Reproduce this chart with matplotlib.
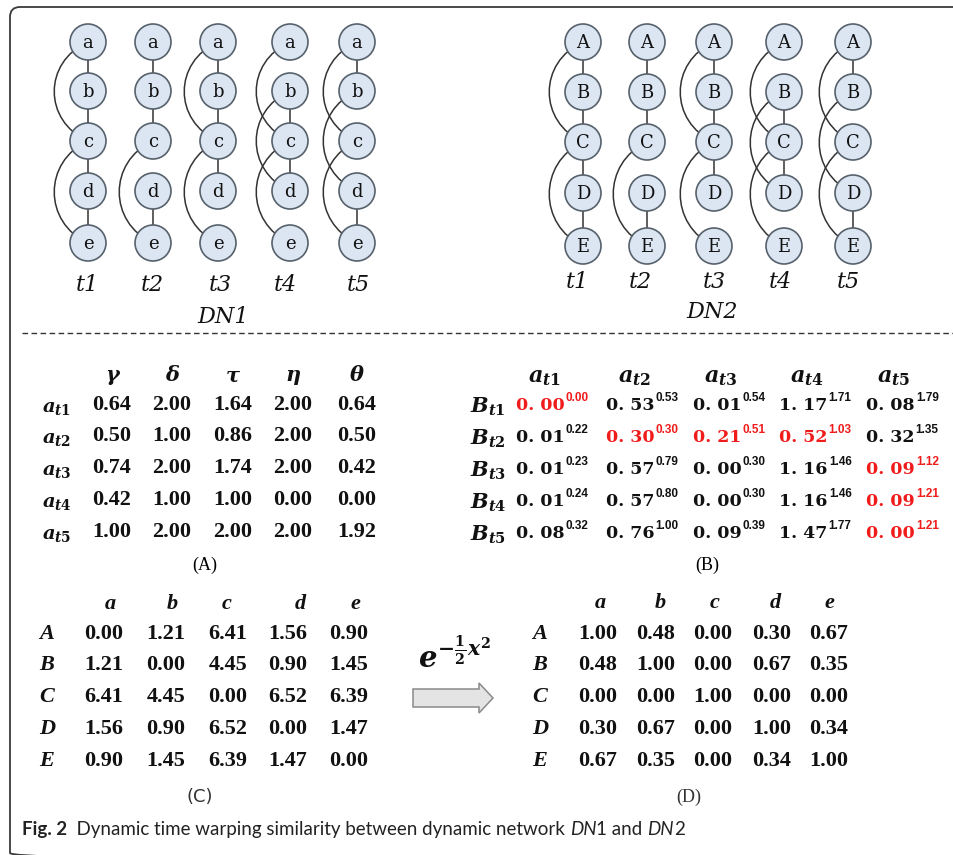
import matplotlib.pyplot as plt
from matplotlib.patches import Circle, PathPatch, FancyBboxPatch, Polygon
from matplotlib.path import Path

plt.rcParams['mathtext.fontset'] = 'custom'
plt.rcParams['mathtext.rm'] = 'DejaVu Serif:bold'
plt.rcParams['mathtext.it'] = 'DejaVu Serif:italic:bold'
plt.rcParams['mathtext.bf'] = 'DejaVu Serif:bold'

# ---- data ----
nodes_dn1 = ['a', 'b', 'c', 'd', 'e']
nodes_dn2 = ['A', 'B', 'C', 'D', 'E']
times = ['t1', 't2', 't3', 't4', 't5']
# edges per snapshot (node index pairs), same for DN1 and DN2
straight_edges = [
    [(0, 1), (1, 2), (2, 3), (3, 4)],
    [(0, 1), (1, 2), (3, 4)],
    [(0, 1), (1, 2), (2, 3)],
    [(1, 2), (2, 3)],
    [(0, 1), (3, 4)],
]
arc_edges = [
    [(0, 2), (2, 4)],
    [(2, 4)],
    [(0, 2), (2, 4)],
    [(0, 2), (1, 3), (2, 4)],
    [(0, 2), (1, 3), (2, 4)],
]

greek = ['γ', 'δ', 'τ', 'η', 'θ']
a_rows = [r'$a_{t1}$', r'$a_{t2}$', r'$a_{t3}$', r'$a_{t4}$', r'$a_{t5}$']
b_rows = [r'$B_{t1}$', r'$B_{t2}$', r'$B_{t3}$', r'$B_{t4}$', r'$B_{t5}$']
table_a = [
    [0.64, 2.00, 1.64, 2.00, 0.64],
    [0.50, 1.00, 0.86, 2.00, 0.50],
    [0.74, 2.00, 1.74, 2.00, 0.42],
    [0.42, 1.00, 1.00, 0.00, 0.00],
    [1.00, 2.00, 2.00, 2.00, 1.92],
]
table_b_cost = [
    [0.00, 0.53, 0.01, 1.17, 0.08],
    [0.01, 0.30, 0.21, 0.52, 0.32],
    [0.01, 0.57, 0.00, 1.16, 0.09],
    [0.01, 0.57, 0.00, 1.16, 0.09],
    [0.08, 0.76, 0.09, 1.47, 0.00],
]
table_b_cum = [
    [0.00, 0.53, 0.54, 1.71, 1.79],
    [0.22, 0.30, 0.51, 1.03, 1.35],
    [0.23, 0.79, 0.30, 1.46, 1.12],
    [0.24, 0.80, 0.30, 1.46, 1.21],
    [0.32, 1.00, 0.39, 1.77, 1.21],
]
warp_path = [(0, 0), (1, 1), (1, 2), (1, 3), (2, 4), (3, 4), (4, 4)]
table_c = [
    [0.00, 1.21, 6.41, 1.56, 0.90],
    [1.21, 0.00, 4.45, 0.90, 1.45],
    [6.41, 4.45, 0.00, 6.52, 6.39],
    [1.56, 0.90, 6.52, 0.00, 1.47],
    [0.90, 1.45, 6.39, 1.47, 0.00],
]
table_d = [
    [1.00, 0.48, 0.00, 0.30, 0.67],
    [0.48, 1.00, 0.00, 0.67, 0.35],
    [0.00, 0.00, 1.00, 0.00, 0.00],
    [0.30, 0.67, 0.00, 1.00, 0.34],
    [0.67, 0.35, 0.00, 0.34, 1.00],
]

W, H = 954, 855
fig = plt.figure(figsize=(W / 100, H / 100), dpi=100)
ax = fig.add_axes([0, 0, 1, 1])
ax.set_xlim(0, W)
ax.set_ylim(H, 0)
ax.axis('off')

# frame and separator
ax.add_patch(FancyBboxPatch((10, 7), 1000, 856, boxstyle='round,pad=0,rounding_size=10',
                            fc='none', ec='#3a3a3a', lw=1.3))
ax.plot([22, W], [333, 333], color='#333333', lw=1.0, dashes=(4, 2.5))

R = 18
BULGE = 45
line_c = '#333333'


def draw_network(col_x, row_y, labels, t_x, t_y, name, name_xy):
    for k in range(5):
        x = col_x[k]
        for i, j in straight_edges[k]:
            ax.plot([x, x], [row_y[i], row_y[j]], color=line_c, lw=1.1, zorder=1)
        for i, j in arc_edges[k]:
            y1, y2 = row_y[i], row_y[j]
            d = y2 - y1
            verts = [(x, y1), (x - BULGE, y1 + 0.2 * d), (x - BULGE, y2 - 0.2 * d), (x, y2)]
            codes = [Path.MOVETO, Path.CURVE4, Path.CURVE4, Path.CURVE4]
            ax.add_patch(PathPatch(Path(verts, codes), fc='none', ec=line_c, lw=1.1, zorder=1))
        for i, lab in enumerate(labels):
            ax.add_patch(Circle((x, row_y[i]), R, fc='#dce6f2', ec='#56616c', lw=1.2, zorder=2))
            ax.text(x, row_y[i] + 1, lab, ha='center', va='center', fontsize=13,
                    family='DejaVu Serif', color='#111111', zorder=3)
        ax.text(t_x[k], t_y, times[k], ha='center', va='center', fontsize=16,
                family='DejaVu Serif', style='italic', color='#111111')
    ax.text(name_xy[0], name_xy[1], name, ha='center', va='center', fontsize=16,
            family='DejaVu Serif', style='italic', color='#111111')


draw_network([88, 153, 218, 290, 357], [42, 91, 141, 191, 243], nodes_dn1,
             [87, 152, 220, 285, 358], 285, 'DN1', (223, 317))
draw_network([583, 647, 714, 784, 853], [42, 92, 142, 193, 246], nodes_dn2,
             [577, 640, 714, 780, 848], 282, 'DN2', (712, 312))

num_kw = dict(ha='center', va='center', fontsize=16, family='Liberation Serif',
              weight='bold', color='#111111')

# ---- table A ----
a_cols = [112, 172, 233, 293, 357]
a_ys = [405, 436, 468, 500, 532]
for c, g in enumerate(greek):
    ax.text(a_cols[c], 375, g, ha='center', va='center', fontsize=15, family='DejaVu Serif',
            weight='bold', style='italic', color='#111111')
for r in range(5):
    ax.text(57, a_ys[r] + 2, a_rows[r], ha='center', va='center', fontsize=14, color='#111111')
    for c in range(5):
        ax.text(a_cols[c], a_ys[r], f'{table_a[r][c]:.2f}', **num_kw)
ax.text(205, 565, '(A)', ha='center', va='center', fontsize=13, family='Liberation Serif')

# ---- table B ----
b_cols = [552, 642, 729, 815, 902]
b_ys = [405, 437, 469, 501, 533]
for c in range(5):
    ax.text(b_cols[c] - 8, 378, a_rows[c], ha='center', va='center', fontsize=16, color='#111111')
for r in range(5):
    ax.text(488, b_ys[r] + 2, b_rows[r], ha='center', va='center', fontsize=15, color='#111111')

fig.canvas.draw()
renderer = fig.canvas.get_renderer()
for r in range(5):
    for c in range(5):
        col = '#f01c1c' if (r, c) in warp_path else '#111111'
        base = ax.text(0, b_ys[r], f'{table_b_cost[r][c]:.2f}'.replace('.', '. '),
                       ha='left', va='center', fontsize=12.5, family='DejaVu Serif',
                       weight='bold', color=col)
        sup = ax.text(0, b_ys[r] - 7, f'{table_b_cum[r][c]:.2f}', ha='left', va='center',
                      fontsize=8.5, family='Liberation Sans', weight='bold', color=col)
        wb = base.get_window_extent(renderer).width
        ws = sup.get_window_extent(renderer).width
        x0 = b_cols[c] - (wb + ws) / 2
        base.set_x(x0)
        sup.set_x(x0 + wb + 1)
ax.text(707, 565, '(B)', ha='center', va='center', fontsize=13, family='Liberation Serif')

# ---- tables C and D ----
letter_kw = dict(ha='center', va='center', fontsize=16, family='Liberation Serif',
                 weight='bold', style='italic', color='#111111')
cd_ys = [634, 665, 697, 729, 761]

c_cols = [104, 166, 228, 288, 349]
c_head = [110, 172, 227, 300, 355]
for c in range(5):
    ax.text(c_head[c], 604, nodes_dn1[c], **letter_kw)
for r in range(5):
    ax.text(47, cd_ys[r], nodes_dn2[r], **letter_kw)
    for c in range(5):
        ax.text(c_cols[c], cd_ys[r], f'{table_c[r][c]:.2f}', **num_kw)
ax.text(200, 797, '(C)', ha='center', va='center', fontsize=13, family='DejaVu Sans',
        color='#333333')

d_cols = [598, 656, 713, 772, 829]
d_head = [600, 660, 715, 775, 829]
for c in range(5):
    ax.text(d_head[c], 603, nodes_dn1[c], **letter_kw)
for r in range(5):
    ax.text(540, cd_ys[r], nodes_dn2[r], **letter_kw)
    for c in range(5):
        ax.text(d_cols[c], cd_ys[r], f'{table_d[r][c]:.2f}', **num_kw)
ax.text(689, 797, '(D)', ha='center', va='center', fontsize=13, family='Liberation Serif',
        color='#333333')

# kernel arrow
ax.text(455, 656, r'$e^{-\frac{1}{2}x^2}$', ha='center', va='center', fontsize=21,
        color='#111111')
ax.add_patch(Polygon([(413, 689), (479, 689), (479, 683), (493, 698), (479, 713),
                      (479, 707), (413, 707)], closed=True, fc='#e4e4e4', ec='#8a8a8a', lw=1.1))

# caption
pieces = [('Fig. 2', 'bold', 'normal'), ('  Dynamic time warping similarity between dynamic network ', 'normal', 'normal'),
          ('DN', 'normal', 'italic'), ('1 and ', 'normal', 'normal'), ('DN', 'normal', 'italic'),
          ('2', 'normal', 'normal')]
x = 22
for txt, wt, st in pieces:
    t = ax.text(x, 829, txt, ha='left', va='center', fontsize=13.5, family='Lato',
                weight=wt, style=st, color='#222222')
    x += t.get_window_extent(renderer).width

fig.savefig('out.png', dpi=100)
